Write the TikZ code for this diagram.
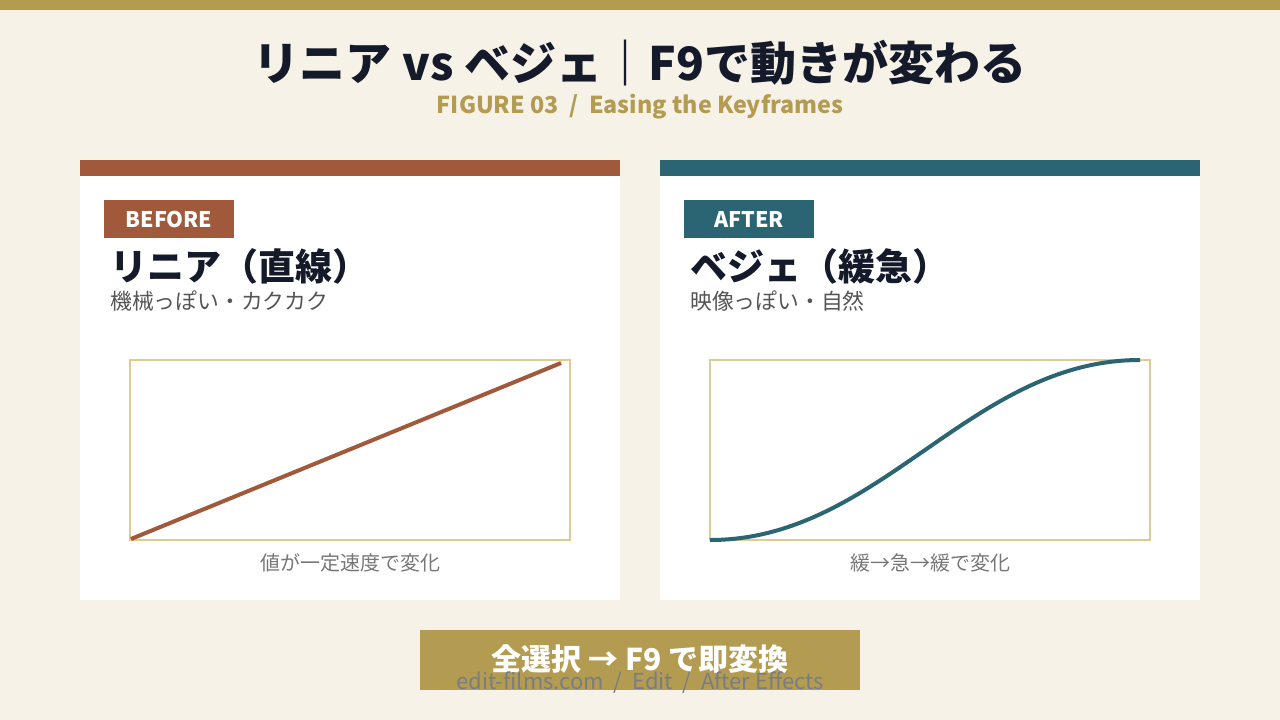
\documentclass[tikz,border=0pt]{standalone}
\usepackage{fontspec}
\setmainfont{Noto Sans CJK JP}
\definecolor{bg}{HTML}{F6F2E8}
\definecolor{gold}{HTML}{B39C52}
\definecolor{navy}{HTML}{141A2A}
\definecolor{rust}{HTML}{A0593A}
\definecolor{teal}{HTML}{2B6573}
\definecolor{boxline}{HTML}{DECB91}
\definecolor{subgray}{HTML}{555555}
\definecolor{capgray}{HTML}{777777}
\definecolor{footgray}{HTML}{7A7C84}
\tikzset{
  panel/.style={fill=white,draw=none},
  tagtext/.style={text=white,font=\bfseries\fontsize{21.5}{24}\selectfont,inner sep=0pt},
  heading/.style={anchor=west,text=navy,font=\bfseries\fontsize{37}{42}\selectfont,inner sep=0pt},
  subtext/.style={anchor=west,text=subgray,font=\fontsize{21.8}{26}\selectfont,inner sep=0pt},
  captext/.style={text=capgray,font=\fontsize{20}{24}\selectfont,inner sep=0pt},
  chart/.style={draw=boxline,line width=2pt},
  curveline/.style={line width=4pt}
}
\begin{document}
\begin{tikzpicture}[x=1pt,y=-1pt]
\useasboundingbox (0,0) rectangle (1280,720);
\fill[bg] (0,0) rectangle (1280,720);
\fill[gold] (0,0) rectangle (1280,10);
\node[text=navy,font=\bfseries\fontsize{46}{52}\selectfont,inner sep=0pt] (title) at (640,63) {リニア vs ベジェ｜F9で動きが変わる};
\node[text=gold,font=\bfseries\fontsize{23.3}{28}\selectfont,inner sep=0pt] (subtitle) at (640,107) {FIGURE 03 \ / \ Easing the Keyframes};
% left panel
\fill[panel] (80,160) rectangle (620,600);
\fill[rust] (80,160) rectangle (620,176);
\fill[rust] (104,200) rectangle (234,238);
\node[tagtext] (before) at (169,219) {BEFORE};
\node[heading] (lhead) at (110,266) {リニア（直線）};
\node[subtext] (lsub) at (110,301) {機械っぽい・カクカク};
\draw[chart] (130,360) rectangle (570,540);
\coordinate (l0) at (131,539);
\coordinate (l1) at (561,363);
\draw[curveline,rust] (l0) -- (l1);
\node[captext] (lcap) at (350,563) {値が一定速度で変化};
% right panel
\fill[panel] (660,160) rectangle (1200,600);
\fill[teal] (660,160) rectangle (1200,176);
\fill[teal] (684,200) rectangle (814,238);
\node[tagtext] (after) at (749,219) {AFTER};
\node[heading] (rhead) at (690,266) {ベジェ（緩急）};
\node[subtext] (rsub) at (690,301) {映像っぽい・自然};
\draw[chart] (710,360) rectangle (1150,540);
\coordinate (r0) at (710,540);
\coordinate (r1) at (1140,360);
\draw[curveline,teal] (r0) .. controls (880,540) and (970,360) .. (r1);
\node[captext] (rcap) at (930,563) {緩→急→緩で変化};
% bottom banner
\fill[gold] (420,630) rectangle (860,690);
\node[text=white,font=\bfseries\fontsize{30}{34}\selectfont,inner sep=0pt] (banner) at (640,659) {全選択 → F9 で即変換};
\node[text=footgray,font=\fontsize{22}{26}\selectfont,inner sep=0pt] (footer) at (640,683) {edit-films.com \ / \ Edit \ / \ After Effects};
\end{tikzpicture}
\end{document}
